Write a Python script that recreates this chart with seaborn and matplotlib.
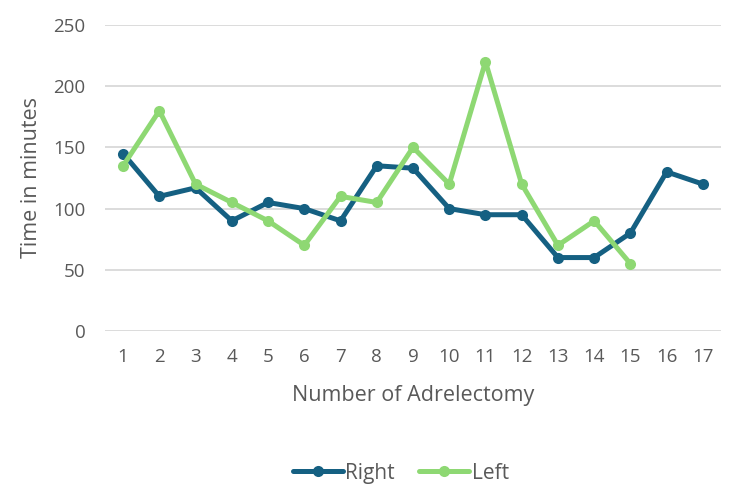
import matplotlib
matplotlib.use("Agg")
import matplotlib.pyplot as plt
import seaborn as sns
import pandas as pd

# Data
cases = list(range(1, 18))
right = [145, 110, 117, 90, 105, 100, 90, 135, 133, 100, 95, 95, 60, 60, 80, 130, 120]
left = [135, 180, 120, 105, 90, 70, 110, 105, 150, 120, 220, 120, 70, 90, 55]

sns.set_style("white")
plt.rcParams['font.family'] = ['Open Sans', 'DejaVu Sans']

df_right = pd.DataFrame({'Case': cases, 'Time': right})
df_left = pd.DataFrame({'Case': cases[:len(left)], 'Time': left})

fig = plt.figure(figsize=(7.5, 4.86), dpi=100)
ax = fig.add_axes([105 / 750, 1 - 331 / 486, (721 - 105) / 750, (331 - 25) / 486])

sns.lineplot(data=df_right, x='Case', y='Time', ax=ax, color='#156082', linewidth=3.6,
             marker='o', markersize=8, markeredgewidth=0, label='Right')
sns.lineplot(data=df_left, x='Case', y='Time', ax=ax, color='#8ED873', linewidth=3.6,
             marker='o', markersize=8, markeredgewidth=0, label='Left')

ax.set_xlim(0.5, 17.5)
ax.set_ylim(0, 250)
ax.set_yticks([0, 50, 100, 150, 200, 250])
ax.set_xticks(cases)
ax.yaxis.grid(True, color='#D9D9D9', linewidth=1.3)
ax.set_axisbelow(True)
for s in ax.spines.values():
    s.set_visible(False)
ax.tick_params(axis='both', colors='#595959', labelsize=13.5, length=0)
ax.tick_params(axis='y', pad=14)
ax.tick_params(axis='x', pad=12)

ax.set_xlabel('Number of Adrelectomy', color='#595959', fontsize=15.5, labelpad=14)
ax.set_ylabel('Time in minutes', color='#595959', fontsize=15.5, labelpad=8)

leg = ax.legend(loc='center', bbox_to_anchor=(0.48, -0.465), ncol=2, frameon=False,
                fontsize=15, handlelength=2.4, columnspacing=1.2, handletextpad=0.1)
for t in leg.get_texts():
    t.set_color('#595959')

fig.savefig('out.png', dpi=100)
